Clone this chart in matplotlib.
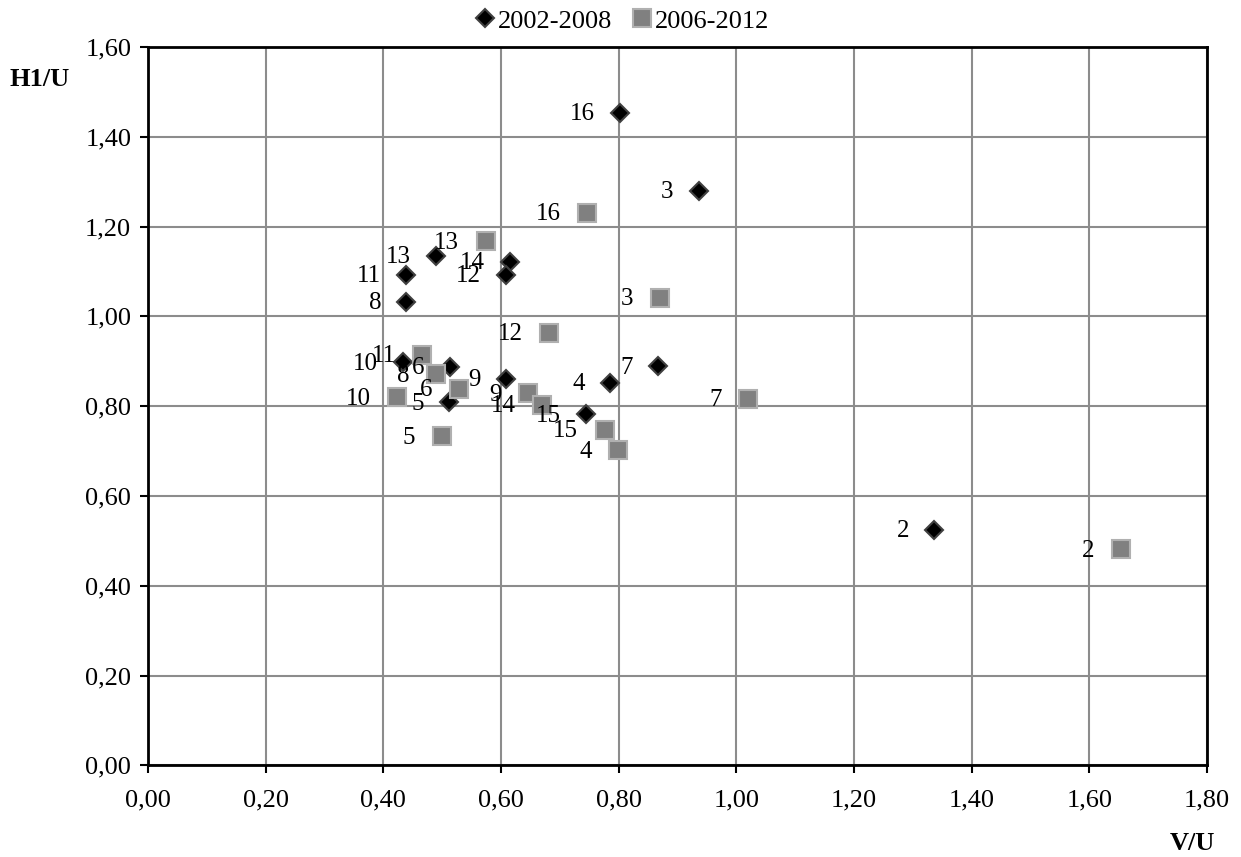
import numpy as np
import matplotlib.pyplot as plt
from matplotlib.ticker import MultipleLocator, FuncFormatter

plt.rcParams['font.family'] = ['Liberation Serif', 'DejaVu Serif']

# 2002-2008 (diamonds)
ids_a = ["16", "3", "13", "11", "8", "14", "12", "10", "6", "9", "5", "4", "15", "7", "2"]
vu_a = [0.802, 0.936, 0.490, 0.439, 0.439, 0.615, 0.608, 0.434, 0.513, 0.608, 0.512, 0.785, 0.744, 0.867, 1.336]
h1u_a = [1.454, 1.280, 1.135, 1.092, 1.032, 1.121, 1.093, 0.898, 0.887, 0.861, 0.809, 0.852, 0.782, 0.889, 0.524]

# 2006-2012 (squares)
ids_b = ["16", "13", "3", "12", "11", "8", "6", "10", "9", "14", "15", "5", "4", "7", "2"]
vu_b = [0.747, 0.574, 0.870, 0.682, 0.466, 0.490, 0.529, 0.423, 0.646, 0.670, 0.776, 0.499, 0.799, 1.020, 1.653]
h1u_b = [1.230, 1.167, 1.041, 0.963, 0.915, 0.871, 0.839, 0.820, 0.829, 0.803, 0.748, 0.733, 0.702, 0.817, 0.481]

fig = plt.figure(figsize=(12.41, 8.57), dpi=100)
ax = fig.add_axes([0.1192, 0.1069, 0.8534, 0.8383])

ax.plot(vu_a, h1u_a, linestyle='none', marker='D', markersize=9.5,
        markerfacecolor='black', markeredgecolor='#404040', markeredgewidth=1.5,
        label='2002-2008', zorder=3)
ax.plot(vu_b, h1u_b, linestyle='none', marker='s', markersize=13,
        markerfacecolor='#808080', markeredgecolor='#b0b0b0', markeredgewidth=1.5,
        label='2006-2012', zorder=3)

for name, x, y in zip(ids_a, vu_a, h1u_a):
    ax.annotate(name, (x, y), xytext=(-18, -1), textcoords='offset points',
                ha='right', va='center', fontsize=18, zorder=4)
for name, x, y in zip(ids_b, vu_b, h1u_b):
    ax.annotate(name, (x, y), xytext=(-19, -1), textcoords='offset points',
                ha='right', va='center', fontsize=18, zorder=4)

ax.set_xlim(0, 1.8)
ax.set_ylim(0, 1.6)
ax.xaxis.set_major_locator(MultipleLocator(0.2))
ax.yaxis.set_major_locator(MultipleLocator(0.2))
comma = FuncFormatter(lambda v, p: f"{v:.2f}".replace('.', ','))
ax.xaxis.set_major_formatter(comma)
ax.yaxis.set_major_formatter(comma)
ax.tick_params(axis='both', direction='out', length=6, width=1.5, labelsize=19)
ax.tick_params(axis='x', pad=11)
ax.tick_params(axis='y', pad=6)

ax.grid(True, color='#8c8c8c', linewidth=1.5)
ax.set_axisbelow(True)
for s in ax.spines.values():
    s.set_color('black')
    s.set_linewidth(2)

fig.text(0.032, 0.907, "H1/U", fontsize=19, fontweight='bold', ha='center', va='center')
fig.text(0.961, 0.016, "V/U", fontsize=19, fontweight='bold', ha='center', va='center')

fig.legend(loc='center', bbox_to_anchor=(0.5, 0.9755), ncol=2, frameon=False,
           fontsize=19, handletextpad=0.0, columnspacing=0.6, handlelength=1.0,
           markerscale=0.95)

fig.savefig("out.png", dpi=100)
